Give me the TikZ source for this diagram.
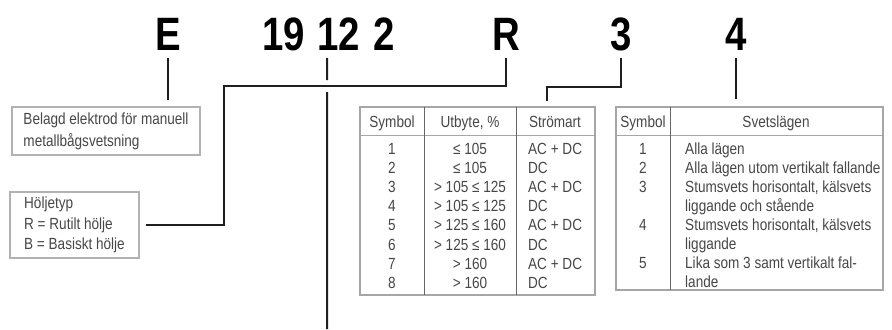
\documentclass[tikz,border=0pt]{standalone}
\usepackage{fontspec}
\setmainfont{Liberation Sans}[FakeStretch=0.84]
\newfontfamily\bigfont{Liberation Sans}[FakeStretch=0.82]
\begin{document}
\begin{tikzpicture}[x=1bp,y=-1bp,
  big/.style={font=\bigfont\bfseries\fontsize{47}{47}\selectfont, inner sep=0pt, anchor=base, text depth=8bp},
  conn/.style={line width=2bp, draw=black!88},
  box/.style={draw=black!30, line width=1.3bp, inner xsep=0pt, inner ysep=0pt, text=black!72},
  tab/.style={draw=black!35, line width=1.3bp, inner sep=0pt},
  rule/.style={draw=black!35, line width=1bp},
  colrule/.style={draw=black!60, line width=1bp},
  cell/.style={anchor=base, inner sep=0pt, font=\fontsize{16.2}{19}\selectfont, text=black!72}
]
\path[fill=white, use as bounding box] (0,0) rectangle (892,329);

% big designation letters
\node[big] (E)   at (168,50) {E};
\node[big] (n19) at (283.5,50) {19};
\node[big] (n12) at (339,50) {12};
\node[big] (n2)  at (384,50) {2};
\node[big] (R)   at (506,50) {R};
\node[big] (n3)  at (621,50) {3};
\node[big] (n4)  at (736,50) {4};

% explanation boxes
\node[box, minimum width=188bp, minimum height=48bp, align=left,
      font=\fontsize{16.2}{22}\selectfont] (b1) at (106,131)
      {Belagd elektrod för manuell\\metallbågsvetsning};
\node[box, minimum width=129bp, minimum height=66bp, align=left,
      font=\fontsize{16.2}{20.5}\selectfont] (b2) at (74.5,225)
      {Höljetyp\\R = Rutilt hölje\\B = Basiskt hölje};

% tables
\node[tab, minimum width=235bp, minimum height=188bp] (t1) at (477.5,201) {};
\node[tab, minimum width=267bp, minimum height=183bp] (t2) at (749.5,198.5) {};

% table 1 rules
\draw[rule] (360,135) -- (595,135);
\draw[colrule] (424,107) -- (424,295);
\draw[colrule] (516,107) -- (516,295);
% table 2 rules
\draw[rule] (616,135) -- (883,135);
\draw[colrule] (670,107) -- (670,290);

% table 1 header
\node[cell] (h11) at (392,127) {Symbol};
\node[cell] (h12) at (470,127) {Utbyte, \%};
\node[cell] (h13) at (555,127) {Strömart};
% table 1 body
\foreach \s/\u/\c [count=\i] in {1/{≤ 105}/{AC + DC}, 2/{≤ 105}/DC,
   3/{> 105 ≤ 125}/{AC + DC}, 4/{> 105 ≤ 125}/DC,
   5/{> 125 ≤ 160}/{AC + DC}, 6/{> 125 ≤ 160}/DC,
   7/{> 160}/{AC + DC}, 8/{> 160}/DC} {
  \pgfmathsetmacro\yy{154.5+19.1*(\i-1)}
  \node[cell] (t1s\i) at (392,\yy) {\s};
  \node[cell] (t1u\i) at (470,\yy) {\u};
  \node[cell, anchor=base west] (t1c\i) at (528,\yy) {\c};
}

% table 2 header
\node[cell] (h21) at (643,127) {Symbol};
\node[cell] (h22) at (776,127) {Svetslägen};
% table 2 body
\foreach \s/\r in {1/1, 2/2, 3/3, 4/5, 5/7} {
  \pgfmathsetmacro\yy{154.5+19*(\r-1)}
  \node[cell] (t2s\s) at (643,\yy) {\s};
}
\foreach \t [count=\i] in {Alla lägen, Alla lägen utom vertikalt fallande,
   {Stumsvets horisontalt, kälsvets}, liggande och stående,
   {Stumsvets horisontalt, kälsvets}, liggande,
   Lika som 3 samt vertikalt fal-, lande} {
  \pgfmathsetmacro\yy{154.5+19*(\i-1)}
  \node[cell, anchor=base west] (t2t\i) at (685,\yy) {\t};
}

% connectors
\coordinate (rk) at (224,86);
\coordinate (k3) at (547,87);
\coordinate (bot) at (327,329);
\draw[conn, shorten >=6bp] (E.south) -- (E.south |- b1.north);
\draw[conn, shorten >=6bp] (R.south) |- (rk) |- (b2.east);
\draw[conn] ([xshift=-12bp]n12.south) -- ++(0,22) ++(0,12) -- (bot);
\draw[conn, shorten >=5bp] (n3.south) |- (k3) -- (k3 |- t1.north);
\draw[conn, shorten >=7bp] (n4.south) -- (n4.south |- t2.north);
\end{tikzpicture}
\end{document}
